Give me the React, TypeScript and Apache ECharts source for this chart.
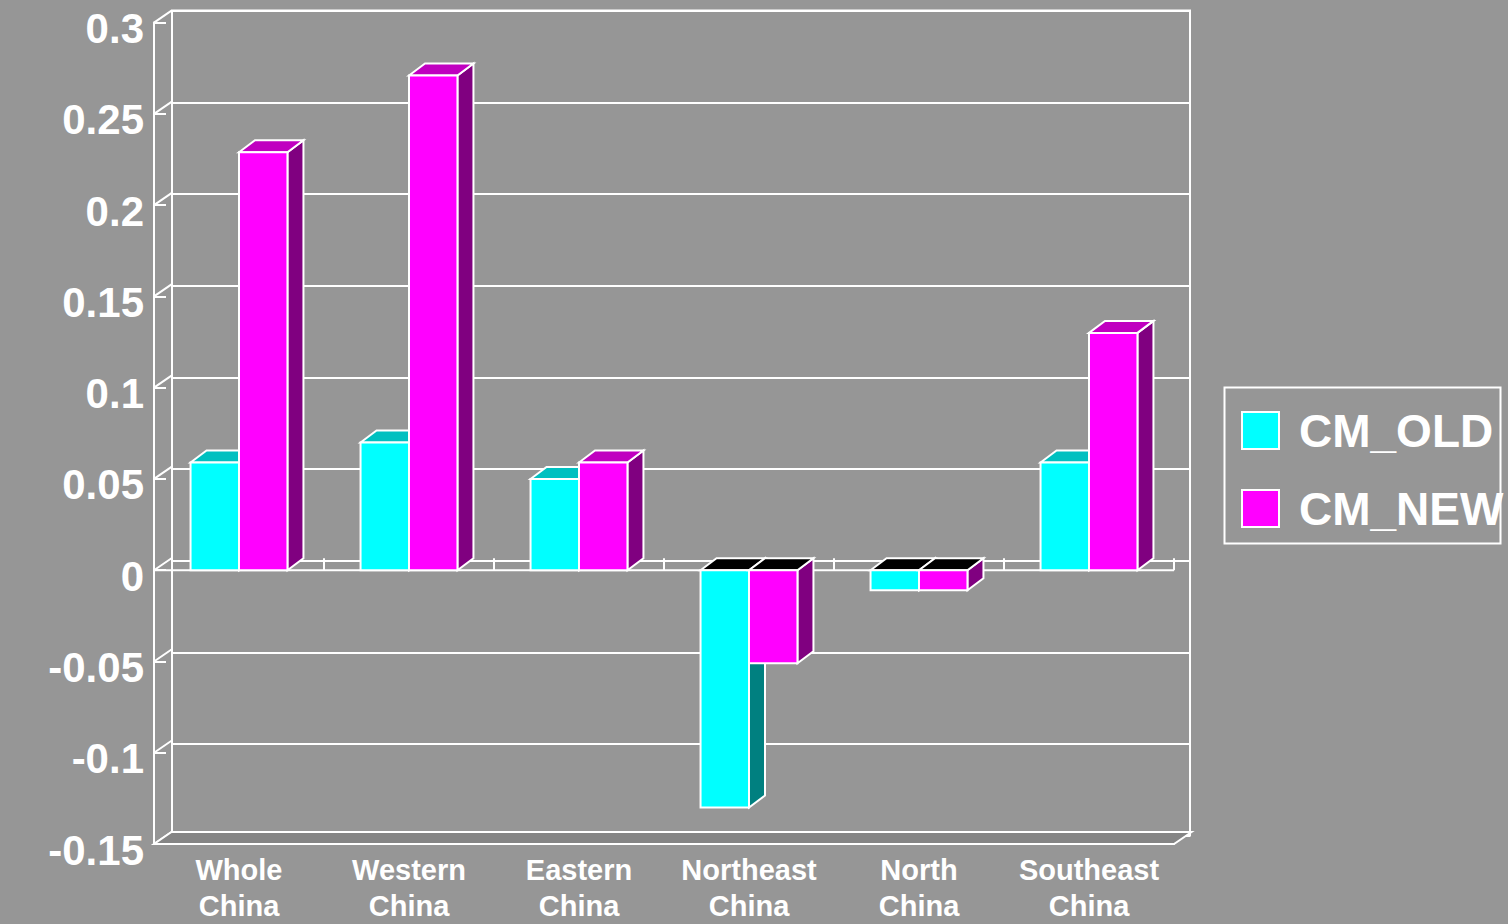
import React, { useEffect, useRef } from "react";
import * as echarts from "echarts";

const categories = [
  "Whole\nChina",
  "Western\nChina",
  "Eastern\nChina",
  "Northeast\nChina",
  "North\nChina",
  "Southeast\nChina",
];
const seriesNames = ["CM_OLD", "CM_NEW"];
const cmOld = [0.059, 0.070, 0.050, -0.130, -0.011, 0.059];
const cmNew = [0.229, 0.271, 0.059, -0.051, -0.011, 0.130];
const yTicks = [-0.15, -0.1, -0.05, 0, 0.05, 0.1, 0.15, 0.2, 0.25, 0.3];

const BG = "#969696";
const FRAME_DX = 17.5;
const FRAME_DY = -12;
const BAR_DX = 16;
const BAR_DY = -12;
const FONT = "'Liberation Sans', Arial, sans-serif";

const faceColors = [
  { front: "#00FFFF", side: "#008080", top: "#00C0C0" },
  { front: "#FF00FF", side: "#800080", top: "#C000C0" },
];

function makeBarRender(sIdx: number) {
  return (params: any, api: any) => {
    const cat = api.value(0);
    const val = api.value(1);
    const base = api.coord([cat, 0]);
    const tip = api.coord([cat, val]);
    const bw = api.size([1, 0])[0] * 0.285;
    const x0 = base[0] + (sIdx === 0 ? -bw : 0);
    const x1 = x0 + bw;
    const yTop = Math.min(base[1], tip[1]);
    const yBot = Math.max(base[1], tip[1]);
    const c = faceColors[sIdx];
    const stroke = { stroke: "#ffffff", lineWidth: 2, lineJoin: "miter" };
    return {
      type: "group",
      children: [
        {
          type: "polygon",
          shape: {
            points: [
              [x1, yTop],
              [x1 + BAR_DX, yTop + BAR_DY],
              [x1 + BAR_DX, yBot + BAR_DY],
              [x1, yBot],
            ],
          },
          style: { fill: c.side, ...stroke },
        },
        {
          type: "polygon",
          shape: {
            points: [
              [x0, yTop],
              [x0 + BAR_DX, yTop + BAR_DY],
              [x1 + BAR_DX, yTop + BAR_DY],
              [x1, yTop],
            ],
          },
          style: { fill: val < 0 ? "#000000" : c.top, ...stroke },
        },
        {
          type: "rect",
          shape: { x: x0, y: yTop, width: bw, height: yBot - yTop },
          style: { fill: c.front, ...stroke },
        },
      ],
    };
  };
}

export default function App() {
  const ref = useRef<HTMLDivElement>(null);
  useEffect(() => {
    if (!ref.current) return;
    const chart = echarts.init(ref.current, undefined, { renderer: "svg" });

    const wallRender = (params: any, api: any) => {
      const cs = params.coordSys;
      const v = api.value(1);
      const y = api.coord([0, v])[1];
      return {
        type: "line",
        shape: { x1: cs.x, y1: y, x2: cs.x + FRAME_DX, y2: y + FRAME_DY },
        style: { stroke: "#ffffff", lineWidth: 2 },
      };
    };

    const floorRender = (params: any, api: any) => {
      const cs = params.coordSys;
      const y0 = api.coord([0, 0])[1];
      const yb = cs.y + cs.height;
      const xr = cs.x + cs.width;
      const children: any[] = [
        {
          type: "polygon",
          shape: {
            points: [
              [cs.x, yb],
              [xr, yb],
              [xr + FRAME_DX, yb + FRAME_DY],
              [cs.x + FRAME_DX, yb + FRAME_DY],
            ],
          },
          style: { fill: "#858585", stroke: "#ffffff", lineWidth: 2 },
        },
        {
          type: "line",
          shape: { x1: cs.x, y1: y0, x2: xr, y2: y0 },
          style: { stroke: "#ffffff", lineWidth: 2 },
        },
      ];
      const n = categories.length;
      for (let i = 1; i <= n; i++) {
        const x = cs.x + (i * cs.width) / n;
        children.push({
          type: "line",
          shape: { x1: x, y1: y0 + FRAME_DY, x2: x, y2: y0 },
          style: { stroke: "#ffffff", lineWidth: 2 },
        });
      }
      return { type: "group", children };
    };

    const option: any = {
      animation: false,
      backgroundColor: BG,
      grid: [
        { left: 154, top: 22.6, width: 1020, height: 825, show: false },
        {
          left: 172,
          top: 10.6,
          width: 1018,
          height: 825,
          show: true,
          borderColor: "#ffffff",
          borderWidth: 2,
          backgroundColor: "transparent",
        },
      ],
      xAxis: [
        {
          type: "category",
          gridIndex: 0,
          data: categories,
          axisLine: { onZero: false, lineStyle: { color: "#ffffff", width: 2 } },
          axisTick: { inside: true, length: 11, lineStyle: { color: "#ffffff", width: 2 } },
          axisLabel: {
            interval: 0,
            margin: 8,
            color: "#ffffff",
            fontFamily: FONT,
            fontWeight: "bold",
            fontSize: 29,
            lineHeight: 36,
          },
          splitLine: { show: false },
        },
        { type: "category", gridIndex: 1, data: categories, show: false },
      ],
      yAxis: [
        {
          type: "value",
          gridIndex: 0,
          min: -0.15,
          max: 0.3,
          interval: 0.05,
          axisLine: { show: true, lineStyle: { color: "#ffffff", width: 2 } },
          axisTick: { show: true, inside: true, length: 12, lineStyle: { color: "#ffffff", width: 2 } },
          splitLine: { show: false },
          axisLabel: {
            margin: 10,
            formatter: (v: number) => "{a|" + String(Math.round(v * 100) / 100) + "}",
            rich: {
              a: {
                color: "#ffffff",
                fontFamily: FONT,
                fontWeight: "bold",
                fontSize: 42,
                padding: [12, 0, 0, 0],
              },
            },
          },
        },
        {
          type: "value",
          gridIndex: 1,
          min: -0.15,
          max: 0.3,
          interval: 0.05,
          axisLine: { show: false },
          axisTick: { show: false },
          axisLabel: { show: false },
          splitLine: { show: true, lineStyle: { color: "#ffffff", width: 2 } },
        },
      ],
      legend: {
        data: seriesNames,
        orient: "vertical",
        left: 1241,
        top: 407.5,
        padding: 0,
        itemWidth: 37,
        itemHeight: 37,
        itemGap: 32,
        icon: "rect",
        textStyle: {
          color: "#ffffff",
          fontFamily: FONT,
          fontWeight: "bold",
          fontSize: 46,
          padding: [0, 0, 0, 15],
        },
      },
      graphic: [
        {
          type: "rect",
          left: 1222,
          top: 385,
          shape: { width: 276, height: 156 },
          style: { fill: "none", stroke: "#ffffff", lineWidth: 2 },
          z: 0,
        },
      ],
      series: [
        {
          name: "wall",
          type: "custom",
          xAxisIndex: 0,
          yAxisIndex: 0,
          clip: false,
          z: 1,
          silent: true,
          renderItem: wallRender,
          data: yTicks.map((v) => [0, v]),
        },
        {
          name: "floor",
          type: "custom",
          xAxisIndex: 0,
          yAxisIndex: 0,
          clip: false,
          z: 1,
          silent: true,
          renderItem: floorRender,
          data: [[0, 0]],
        },
        {
          name: seriesNames[0],
          type: "custom",
          xAxisIndex: 0,
          yAxisIndex: 0,
          clip: false,
          z: 2,
          itemStyle: { color: faceColors[0].front, borderColor: "#ffffff", borderWidth: 2 },
          renderItem: makeBarRender(0),
          data: cmOld.map((v, i) => [i, v]),
        },
        {
          name: seriesNames[1],
          type: "custom",
          xAxisIndex: 0,
          yAxisIndex: 0,
          clip: false,
          z: 3,
          itemStyle: { color: faceColors[1].front, borderColor: "#ffffff", borderWidth: 2 },
          renderItem: makeBarRender(1),
          data: cmNew.map((v, i) => [i, v]),
        },
      ],
    };
    chart.setOption(option);
    return () => chart.dispose();
  }, []);
  return (
    <div
      ref={ref}
      style={{ position: "fixed", left: 0, top: 0, width: 1508, height: 924, background: BG }}
    />
  );
}
